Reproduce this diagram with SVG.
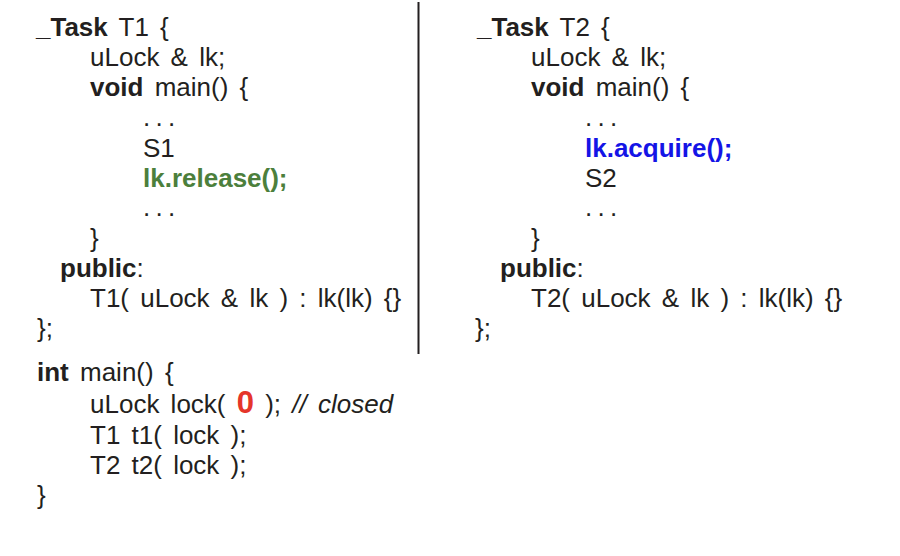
<svg xmlns="http://www.w3.org/2000/svg" width="900" height="556" viewBox="0 0 900 556">
<style>
text{font-family:"Liberation Sans",Arial,sans-serif;font-size:26px;fill:#231f20;word-spacing:4px}
.b{font-weight:bold}
.i{font-style:italic}
.dots{letter-spacing:5.3px}
.green{fill:#4c7f3c;font-weight:bold}
.blue{fill:#1414e6;font-weight:bold}
.red{fill:#e5352a;font-weight:bold;font-size:31px}
</style>
<rect width="900" height="556" fill="#ffffff"/>
<g id="divider">
<line x1="418.5" y1="2" x2="418.5" y2="354" stroke="#231f20" stroke-width="2"/>
</g>
<g id="task-t1">
<text x="36" y="36"><tspan class="b">_Task</tspan> T1 {</text>
<text x="90" y="66">uLock &amp; lk;</text>
<text x="90" y="96"><tspan class="b">void</tspan> main() {</text>
<text x="143" y="126" class="dots">...</text>
<text x="143" y="157">S1</text>
<text x="143" y="187" class="green">lk.release();</text>
<text x="143" y="216" class="dots">...</text>
<text x="90" y="247">}</text>
<text x="60" y="277"><tspan class="b">public</tspan>:</text>
<text x="90" y="307">T1( uLock &amp; lk ) : lk(lk) {}</text>
<text x="37" y="337">};</text>
</g>
<g id="task-t2">
<text x="477" y="36"><tspan class="b">_Task</tspan> T2 {</text>
<text x="531" y="66">uLock &amp; lk;</text>
<text x="531" y="96"><tspan class="b">void</tspan> main() {</text>
<text x="585" y="126" class="dots">...</text>
<text x="585" y="157" class="blue">lk.acquire();</text>
<text x="585" y="187">S2</text>
<text x="585" y="216" class="dots">...</text>
<text x="531" y="247">}</text>
<text x="500" y="277"><tspan class="b">public</tspan>:</text>
<text x="531" y="307">T2( uLock &amp; lk ) : lk(lk) {}</text>
<text x="475" y="337">};</text>
</g>
<g id="main-program">
<text x="37" y="381"><tspan class="b">int</tspan> main() {</text>
<text x="90" y="413">uLock lock( <tspan class="red">0</tspan> ); <tspan class="i">// closed</tspan></text>
<text x="90" y="444">T1 t1( lock );</text>
<text x="90" y="474">T2 t2( lock );</text>
<text x="37" y="504">}</text>
</g>
</svg>
